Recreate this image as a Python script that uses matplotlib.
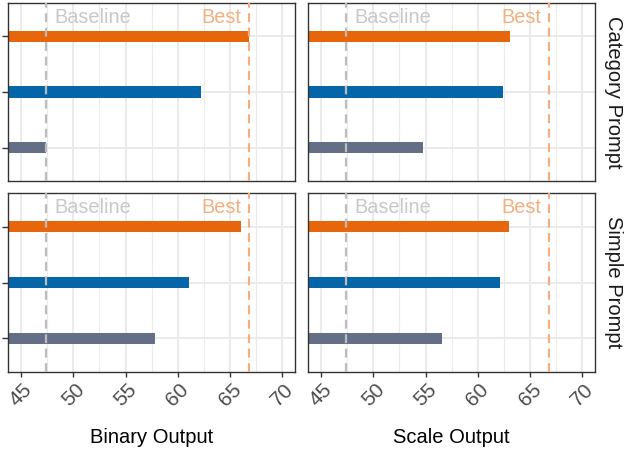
import matplotlib
matplotlib.use('Agg')
import matplotlib.pyplot as plt
from matplotlib.ticker import MultipleLocator

plt.rcParams['font.family'] = ['Liberation Sans', 'DejaVu Sans']

# facets
prompts = ['Category Prompt', 'Simple Prompt']
outputs = ['Binary Output', 'Scale Output']

# bars, bottom to top: gray, blue, orange
methods = ['Method C', 'Method B', 'Method A']
bar_colors = ['#646E87', '#0466A8', '#E8660B']

scores = {
    ('Category Prompt', 'Binary Output'): [47.4, 62.2, 66.8],
    ('Category Prompt', 'Scale Output'): [54.8, 62.4, 63.1],
    ('Simple Prompt', 'Binary Output'): [57.8, 61.1, 66.05],
    ('Simple Prompt', 'Scale Output'): [56.6, 62.1, 63.0],
}

baseline = 47.4
best = 66.8
x_ticks = [45, 50, 55, 60, 65, 70]

fig = plt.figure(figsize=(6.24, 4.53), dpi=100)
W, H = 624, 453

# panel boxes in pixels: (left, top, right, bottom)
col_px = [(8, 295), (308, 595)]
row_px = [(3, 181), (193, 372)]

for r, prompt in enumerate(prompts):
    for c, output in enumerate(outputs):
        x0, x1 = col_px[c]
        y0, y1 = row_px[r]
        ax = fig.add_axes([x0 / W, 1 - y1 / H, (x1 - x0) / W, (y1 - y0) / H])
        ypos = list(range(1, len(methods) + 1))
        vals = scores[(prompt, output)]

        # grid
        ax.set_axisbelow(True)
        ax.xaxis.set_major_locator(MultipleLocator(5))
        ax.xaxis.set_minor_locator(MultipleLocator(2.5))
        ax.grid(which='major', axis='both', color='#EBEBEB', linewidth=1.4)
        ax.grid(which='minor', axis='x', color='#EBEBEB', linewidth=0.8)

        ax.barh(ypos, vals, height=0.2, color=bar_colors, zorder=2)

        ax.axvline(baseline, color='#BDBDBD', linewidth=1.6, dashes=(4, 2.5), zorder=3)
        ax.axvline(best, color='#F4AF80', linewidth=1.6, dashes=(4, 2.5), zorder=3)
        ax.text(baseline + 0.8, 3.34, 'Baseline', color='#C8C8C8', fontsize=14.3,
                ha='left', va='center', zorder=4)
        ax.text(best - 0.75, 3.34, 'Best', color='#F4AF80', fontsize=14.3,
                ha='right', va='center', zorder=4)

        ax.set_xlim(43.76, 71.2)
        ax.set_ylim(0.4, 3.6)
        ax.set_yticks(ypos)
        ax.set_yticklabels([])
        ax.set_xticks(x_ticks)

        for s in ax.spines.values():
            s.set_color('#333333')
            s.set_linewidth(1.0)

        ax.tick_params(axis='both', which='minor', length=0)
        ax.tick_params(axis='y', length=4, width=1.0, color='#333333', left=(c == 0))
        if r == len(prompts) - 1:
            ax.tick_params(axis='x', length=3.5, width=1.0, color='#333333',
                           labelsize=15, labelcolor='#4D4D4D', pad=2)
            for lab in ax.get_xticklabels():
                lab.set_rotation(45)
            ax.set_xlabel(output, fontsize=14.5, color='black', labelpad=13)
        else:
            ax.tick_params(axis='x', length=0, labelbottom=False)

        if c == len(outputs) - 1:
            ax.text(1.0 + 18 / (x1 - x0), 0.5, prompt, transform=ax.transAxes,
                    rotation=-90, ha='center', va='center', fontsize=14.5,
                    color='#1A1A1A')

fig.savefig('out.png', dpi=100)
